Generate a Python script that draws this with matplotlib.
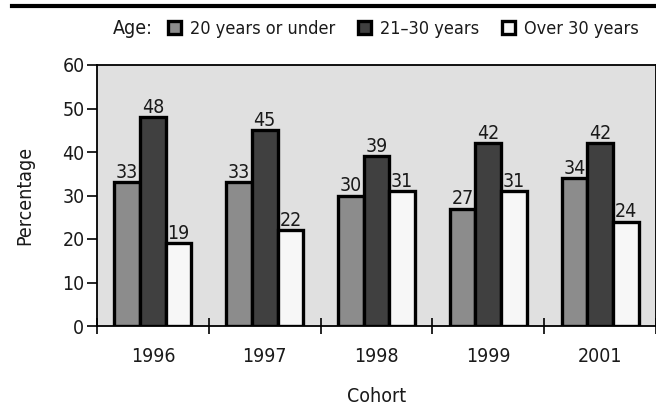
import matplotlib
matplotlib.use("Agg")
from matplotlib import pyplot as plt
from matplotlib import font_manager as fm
from matplotlib.lines import Line2D
from matplotlib.patches import Patch
import numpy as np

cohorts = ["1996", "1997", "1998", "1999", "2001"]
age_groups = ["20 years or under", "21\u201330 years", "Over 30 years"]
under_20 = [33, 33, 30, 27, 34]
age_21_30 = [48, 45, 39, 42, 42]
over_30 = [19, 22, 31, 31, 24]
series = [under_20, age_21_30, over_30]
colors = ["#8c8c8c", "#404040", "#f7f7f7"]

# look for a narrow sans face, the original uses a condensed font
narrow = None
for f in fm.fontManager.ttflist:
    if f.style != "normal" or f.weight not in (400, "normal", "regular", 300, "light"):
        continue
    if "Narrow" in f.name or "Condensed" in f.name or "condensed" in str(f.stretch):
        narrow = f
        break

if narrow is not None:
    plt.rcParams["font.family"] = [narrow.name, "DejaVu Sans"]
    plt.rcParams["font.stretch"] = narrow.stretch
    fsize = 14
    lsize = 13
else:
    plt.rcParams["font.family"] = ["DejaVu Sans"]
    fsize = 11.5
    lsize = 10.5
plt.rcParams["font.size"] = fsize
txt_color = "#1a1a1a"

fig = plt.figure(figsize=(6.56, 4.13), dpi=100)
ax = fig.add_axes([97 / 656, 1 - 326 / 413, 559 / 656, 261 / 413])
ax.set_facecolor("#e0e0e0")

x = np.arange(len(cohorts))
width = 0.23
for i, (vals, col) in enumerate(zip(series, colors)):
    pos = x + (i - 1) * width
    ax.bar(pos, vals, width, color=col, edgecolor="black", linewidth=2.4,
           label=age_groups[i], zorder=3)
    for p, v in zip(pos, vals):
        ax.text(p, v + 0.1, str(v), ha="center", va="bottom", fontsize=fsize,
                color=txt_color, zorder=4)

ax.set_xlim(-0.5, len(cohorts) - 0.5)
ax.set_ylim(0, 60)
ax.set_yticks(range(0, 61, 10))
ax.set_xticks(x)
ax.set_xticklabels(cohorts)
ax.set_xticks(np.arange(-0.5, len(cohorts)), minor=True)
ax.tick_params(axis="x", which="major", length=0, pad=15, labelcolor=txt_color)
ax.tick_params(axis="x", which="minor", length=12, direction="inout", width=1.2)
ax.tick_params(axis="y", length=7, width=1.2, pad=2, labelcolor=txt_color)
for s in ax.spines.values():
    s.set_linewidth(1.3)
ax.set_xlabel("Cohort", labelpad=15, color=txt_color)
ax.set_ylabel("Percentage", labelpad=20, color=txt_color)

# top rule
fig.add_artist(Line2D([12 / 656, 1.0], [1 - 6 / 413] * 2, color="black", linewidth=3))

# legend row
fig.text(113 / 656, 1 - 29 / 413, "Age:", va="center", ha="left", color=txt_color)
handles = [Patch(facecolor=c, edgecolor="black", linewidth=2.4) for c in colors]
fig.legend(handles, age_groups, loc="center left",
           bbox_to_anchor=(168 / 656, 1 - 29 / 413), ncol=3, frameon=False,
           fontsize=lsize, handlelength=0.72, handleheight=0.72, handletextpad=0.5,
           columnspacing=1.25, borderaxespad=0, borderpad=0, labelcolor=txt_color)

fig.savefig("out.png", dpi=100)
